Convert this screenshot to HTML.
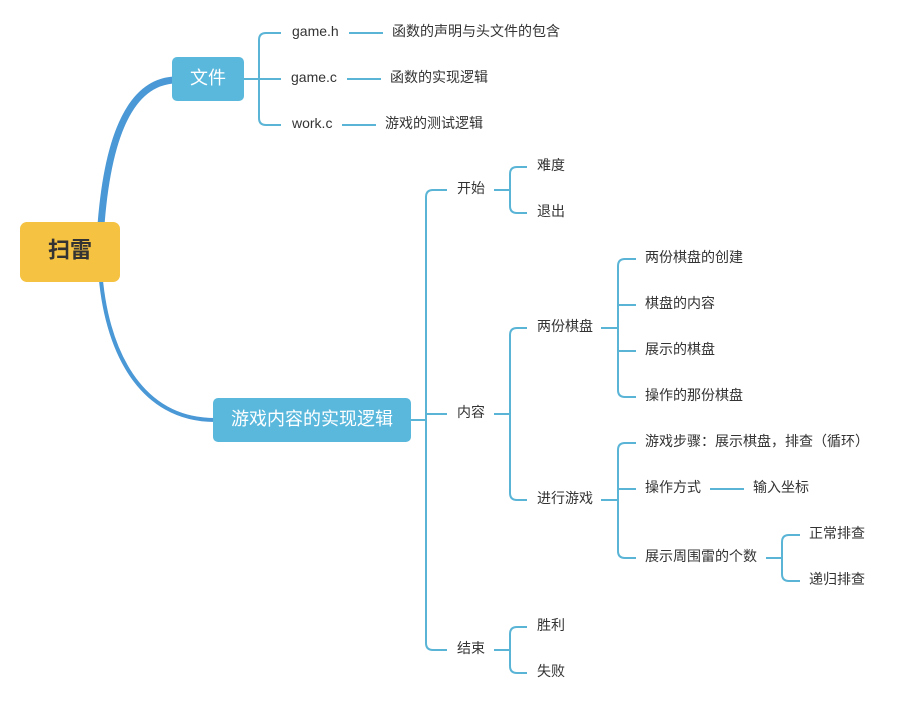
<!DOCTYPE html>
<html><head><meta charset="utf-8"><style>
html,body{margin:0;padding:0;background:#fff;}
svg text{font-family:"Liberation Sans","Noto Sans CJK SC",sans-serif;font-size:14px;fill:#333;dominant-baseline:central;}
</style></head><body>
<svg width="899" height="706" viewBox="0 0 899 706" xmlns="http://www.w3.org/2000/svg">
<g fill="none" stroke="#4a98d6" stroke-linecap="round">
<path d="M100 240 C 105 150, 125 82, 175 80" stroke-width="7"/>
<path d="M100 268 C 105 350, 140 420, 215 420" stroke-width="4"/>
</g>
<rect x="20" y="222" width="100" height="60" rx="7" fill="#f5c242"/>
<text x="70" y="250" text-anchor="middle" style="font-size:22px;font-weight:bold;fill:#333">扫雷</text>
<rect x="172" y="57" width="72" height="44" rx="5" fill="#5ab8dd"/>
<text x="208" y="78" text-anchor="middle" style="font-size:18px;fill:#fff">文件</text>
<rect x="213" y="398" width="198" height="44" rx="5" fill="#5ab8dd"/>
<text x="312" y="419" text-anchor="middle" style="font-size:18px;fill:#fff">游戏内容的实现逻辑</text>
<g fill="none" stroke="#5ab4d6" stroke-width="2">
<path d="M244 79 H281"/>
<path d="M281 33 H266 Q259 33 259 40 V118 Q259 125 266 125 H281"/>
<path d="M349 33 H383 M347 79 H381 M342 125 H376"/>
<path d="M411 420 H426"/>
<path d="M447 190 H433 Q426 190 426 197 V643 Q426 650 433 650 H447 M426 414 H447"/>
<path d="M494 190 H510 M527 167 H517 Q510 167 510 174 V206 Q510 213 517 213 H527"/>
<path d="M494 414 H510 M527 328 H517 Q510 328 510 335 V493 Q510 500 517 500 H527"/>
<path d="M494 650 H510 M527 627 H517 Q510 627 510 634 V666 Q510 673 517 673 H527"/>
<path d="M601 328 H618 M636 259 H625 Q618 259 618 266 V390 Q618 397 625 397 H636 M618 305 H636 M618 351 H636"/>
<path d="M601 500 H618 M636 443 H625 Q618 443 618 450 V551 Q618 558 625 558 H636 M618 489 H636"/>
<path d="M710 489 H744"/>
<path d="M766 558 H782 M800 535 H789 Q782 535 782 542 V574 Q782 581 789 581 H800"/>
</g>
<text x="292" y="31">game.h</text>
<text x="392" y="31">函数的声明与头文件的包含</text>
<text x="291" y="77">game.c</text>
<text x="390" y="77">函数的实现逻辑</text>
<text x="292" y="123">work.c</text>
<text x="385" y="123">游戏的测试逻辑</text>
<text x="457" y="188">开始</text>
<text x="457" y="412">内容</text>
<text x="457" y="648">结束</text>
<text x="537" y="165">难度</text>
<text x="537" y="211">退出</text>
<text x="537" y="326">两份棋盘</text>
<text x="537" y="498">进行游戏</text>
<text x="537" y="625">胜利</text>
<text x="537" y="671">失败</text>
<text x="645" y="257">两份棋盘的创建</text>
<text x="645" y="303">棋盘的内容</text>
<text x="645" y="349">展示的棋盘</text>
<text x="645" y="395">操作的那份棋盘</text>
<text x="645" y="441">游戏步骤：展示棋盘，排查（循环）</text>
<text x="645" y="487">操作方式</text>
<text x="753" y="487">输入坐标</text>
<text x="645" y="556">展示周围雷的个数</text>
<text x="809" y="533">正常排查</text>
<text x="809" y="579">递归排查</text>
</svg>
</body></html>
